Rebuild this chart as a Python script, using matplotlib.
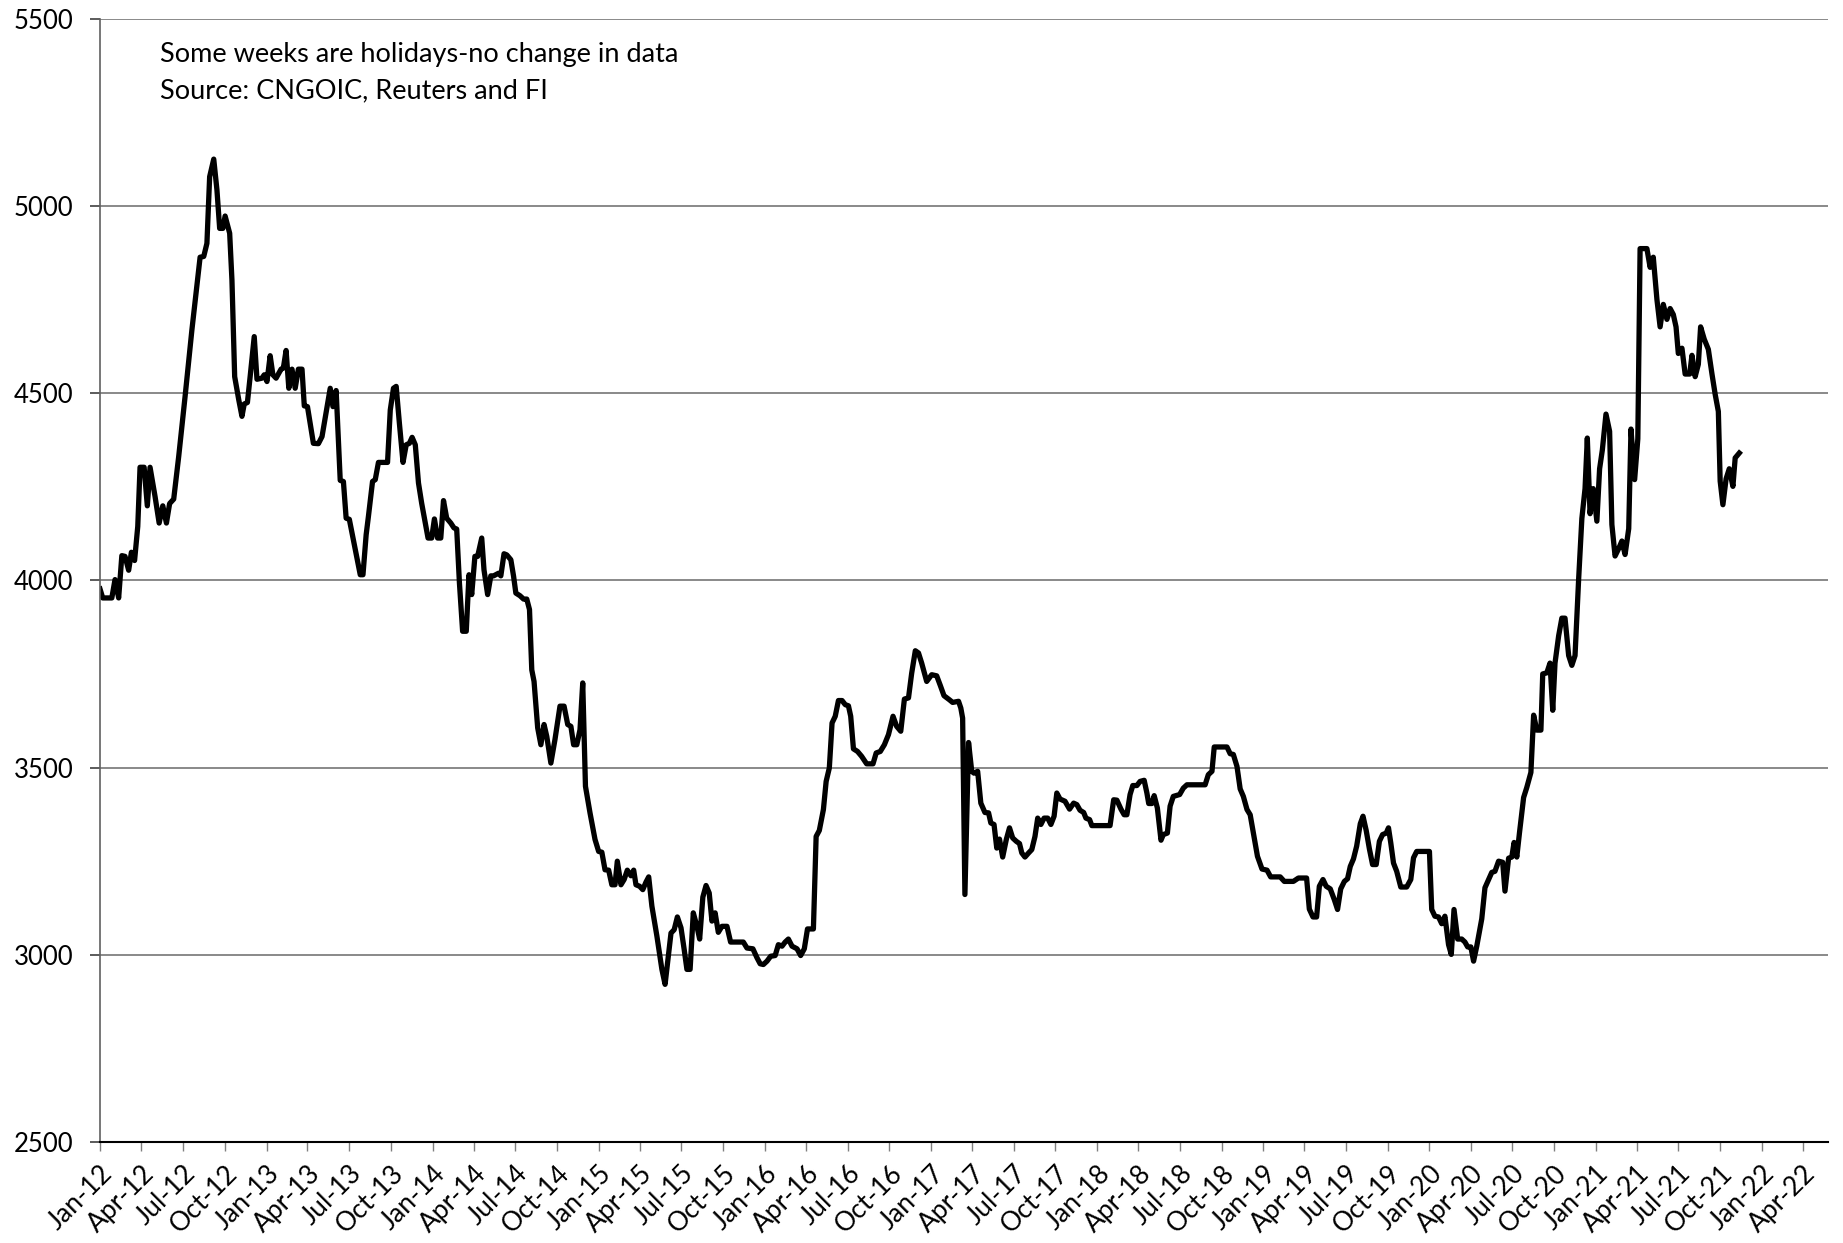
import numpy as np
import pandas as pd
import matplotlib
matplotlib.use("Agg")
import matplotlib.pyplot as plt
import matplotlib.dates as mdates

plt.rcParams['font.family'] = ['Lato', 'DejaVu Sans']

# weekly price: days since 2012-01-01 and value
days = [0, 6, 26, 33, 41, 48, 55, 63, 69, 76, 83, 88, 97, 104, 110, 121, 130, 138, 146, 153,
        162, 173, 187, 202, 220, 228, 235, 241, 250, 257, 263, 270, 275, 285, 290, 296, 305, 312, 317, 324,
        330, 339, 345, 356, 361, 367, 374, 380, 387, 398, 403, 409, 415, 422, 429, 436, 444, 449, 456, 469,
        480, 488, 506, 512, 519, 528, 535, 541, 548, 572, 578, 585, 590, 599, 605, 612,
        632, 638, 645, 651, 658, 666, 673, 680, 686, 693, 700, 707, 721, 729, 735, 742, 749, 755, 762, 771,
        778, 784, 790, 797, 805, 811, 817, 824, 830, 839, 844, 852, 859, 865, 876, 881, 888, 894, 903, 909,
        914, 923, 931, 938, 944, 949, 954, 962, 969, 976, 982, 991, 1000, 1011, 1020, 1028, 1035, 1041, 1048, 1055,
        1061, 1067, 1077, 1088, 1096, 1103, 1110, 1118, 1125, 1132, 1137, 1145, 1152, 1159, 1167, 1173, 1178, 1186, 1193, 1200,
        1206, 1213, 1224, 1235, 1242, 1247, 1255, 1262, 1269, 1277, 1284, 1290, 1297, 1304, 1312, 1318, 1325, 1332, 1339, 1345,
        1352, 1359, 1367, 1378, 1386, 1396, 1414, 1422, 1435, 1444, 1451, 1458, 1466, 1474, 1484, 1491, 1499, 1506, 1513, 1521,
        1532, 1540, 1548, 1555, 1568,
        1574, 1581, 1590, 1596, 1603, 1609, 1616, 1623, 1631, 1638, 1645, 1650, 1656, 1665, 1674, 1685, 1699, 1706, 1715, 1724,
        1733, 1743, 1751, 1760, 1768, 1777, 1784, 1792, 1799, 1806, 1817, 1828, 1839, 1847, 1855, 1867, 1874, 1887, 1892, 1896,
        1901, 1909, 1916, 1921, 1929, 1936, 1945, 1953, 1958, 1965, 1971, 1977, 1984, 1992, 1999, 2006, 2014, 2021, 2026, 2033,
        2041, 2048, 2055, 2061, 2068, 2075, 2083, 2090, 2097, 2103, 2110, 2121, 2131, 2140, 2147, 2154, 2162, 2167, 2175, 2180, 2220,
        2228, 2235, 2244, 2251, 2257, 2264, 2270, 2279, 2286, 2295, 2301, 2305, 2312, 2317, 2324, 2332, 2337, 2346, 2352, 2359,
        2373, 2381, 2389, 2429, 2436, 2444, 2449, 2477, 2484, 2491, 2499, 2506, 2513, 2521, 2528, 2535, 2544, 2554, 2565, 2573,
        2594, 2603, 2623, 2634, 2652, 2658, 2666, 2674, 2680, 2688, 2695, 2704, 2713, 2720, 2727, 2735, 2742, 2748, 2755, 2762,
        2770, 2776, 2783, 2790, 2797, 2805, 2812,
        2819, 2827, 2832, 2837, 2843, 2850, 2859, 2872, 2881, 2887, 2894, 2922, 2927, 2934, 2942, 2949, 2956, 2964, 2970, 2976,
        2984, 2993, 3000, 3006, 3013, 3019, 3026, 3037, 3044, 3052, 3059, 3066, 3074,
        3083, 3088, 3096, 3103, 3108, 3114, 3120, 3129, 3136, 3145, 3151, 3158, 3167, 3171, 3180, 3187, 3193, 3198, 3206, 3213,
        3220, 3228, 3235, 3242, 3250, 3257, 3264, 3269, 3275, 3282, 3290, 3296, 3302, 3310, 3318, 3323, 3330, 3338, 3345, 3352,
        3360, 3365, 3373, 3380, 3385, 3400, 3407, 3414, 3422, 3429, 3436, 3444, 3451, 3458, 3464, 3469, 3477, 3484, 3494, 3499,
        3506, 3513, 3518, 3526, 3535, 3543, 3550, 3557, 3561, 3567, 3574, 3581, 3589, 3594, 3603]

price = [3977, 3953, 3953, 4002, 3953, 4066, 4064, 4027, 4075, 4053, 4144, 4302, 4302, 4199, 4302, 4224, 4153, 4199, 4153, 4205,
         4217, 4331, 4491, 4669, 4863, 4865, 4900, 5078, 5125, 5043, 4940, 4940, 4973, 4927, 4802, 4544, 4482, 4438, 4471, 4475,
         4544, 4651, 4537, 4540, 4549, 4531, 4600, 4549, 4540, 4564, 4567, 4614, 4513, 4564, 4513, 4564, 4564, 4466, 4464, 4366,
         4365, 4384, 4513, 4464, 4507, 4267, 4264, 4166, 4163, 4015, 4015, 4122, 4171, 4264, 4269, 4315,
         4315, 4455, 4513, 4518, 4420, 4315, 4362, 4366, 4382, 4362, 4260, 4206, 4113, 4113, 4164, 4113, 4113, 4213, 4166, 4153,
         4140, 4137, 3993, 3864, 3864, 4015, 3962, 4064, 4064, 4113, 4028, 3962, 4012, 4012, 4019, 4012, 4071, 4068, 4055, 4011,
         3966, 3959, 3950, 3950, 3922, 3761, 3730, 3606, 3561, 3615, 3583, 3512, 3575, 3664, 3664, 3615, 3610, 3561, 3561, 3601,
         3726, 3450, 3379, 3308, 3276, 3274, 3227, 3226, 3187, 3187, 3250, 3187, 3201, 3226, 3211, 3226, 3187, 3183, 3174, 3194,
         3208, 3130, 3050, 2961, 2921, 2974, 3058, 3067, 3101, 3072, 3014, 2961, 2961, 3112, 3076, 3042, 3154, 3185, 3165, 3090,
         3112, 3060, 3076, 3076, 3034, 3034, 3034, 3018, 3016, 2992, 2976, 2974, 2983, 2996, 2998, 3027, 3023, 3034, 3042, 3023,
         3016, 2998, 3016, 3069, 3069,
         3316, 3332, 3388, 3463, 3499, 3619, 3637, 3679, 3679, 3668, 3665, 3637, 3550, 3543, 3530, 3510, 3510, 3539, 3543, 3561,
         3588, 3637, 3610, 3597, 3683, 3686, 3752, 3812, 3806, 3779, 3730, 3748, 3745, 3719, 3692, 3681, 3674, 3677, 3659, 3632,
         3161, 3567, 3490, 3485, 3490, 3405, 3380, 3379, 3352, 3348, 3285, 3309, 3261, 3308, 3339, 3312, 3303, 3297, 3272, 3261,
         3272, 3281, 3316, 3365, 3348, 3365, 3365, 3348, 3370, 3432, 3416, 3410, 3389, 3405, 3401, 3386, 3380, 3365, 3361, 3345, 3345,
         3414, 3413, 3389, 3374, 3374, 3428, 3452, 3452, 3463, 3466, 3432, 3404, 3404, 3425, 3392, 3306, 3321, 3325, 3397, 3423,
         3428, 3445, 3454, 3454, 3481, 3490, 3555, 3555, 3537, 3535, 3503, 3443, 3423, 3388, 3374, 3325, 3263, 3229, 3226, 3208,
         3208, 3196, 3196, 3205, 3205, 3122, 3101, 3101, 3183, 3201, 3183, 3176, 3147, 3121, 3176, 3196, 3203, 3236, 3256, 3290,
         3350, 3370, 3332, 3283, 3241, 3241, 3303,
         3321, 3325, 3339, 3299, 3245, 3223, 3181, 3181, 3201, 3259, 3276, 3276, 3121, 3103, 3101, 3083, 3103, 3027, 3001, 3121,
         3042, 3042, 3034, 3021, 3021, 2983, 3023, 3096, 3179, 3201, 3220, 3223, 3250,
         3247, 3170, 3258, 3261, 3300, 3261, 3327, 3420, 3447, 3487, 3640, 3600, 3600, 3750, 3753, 3779, 3653, 3779, 3852, 3899,
         3899, 3799, 3773, 3799, 4005, 4165, 4245, 4380, 4178, 4245, 4158, 4298, 4348, 4444, 4398, 4149, 4065, 4085, 4105, 4069,
         4138, 4404, 4269, 4378, 4886, 4886, 4836, 4863, 4750, 4677, 4737, 4697, 4726, 4710, 4677, 4606, 4620, 4551, 4551, 4601,
         4544, 4577, 4677, 4644, 4617, 4551, 4497, 4451, 4265, 4202, 4271, 4298, 4251, 4327, 4340]

y_ticks = [2500, 3000, 3500, 4000, 4500, 5000, 5500]
note = "Some weeks are holidays-no change in data\nSource: CNGOIC, Reuters and FI"

start = pd.Timestamp("2012-01-01")
dates = start + pd.to_timedelta(days, unit="D")

fig = plt.figure(figsize=(18.43, 12.43), dpi=100)
ax = fig.add_axes([100 / 1843, 1 - 1142 / 1243, 1728 / 1843, 1123.3 / 1243])

ax.plot(dates, price, color="black", lw=3.8, solid_joinstyle="round")

ax.set_ylim(2500, 5500)
ax.set_yticks(y_ticks)
ax.set_xlim(start, start + pd.Timedelta(days=3798))
ax.xaxis.set_major_locator(mdates.MonthLocator(bymonth=[1, 4, 7, 10]))
ax.xaxis.set_major_formatter(mdates.DateFormatter("%b-%y"))
ax.set_xticks(ax.get_xticks()[ax.get_xticks() <= mdates.date2num(pd.Timestamp("2022-04-01"))])

ax.grid(axis="y", color="#808080", lw=1.3)
ax.set_axisbelow(True)
for s in ["top", "right"]:
    ax.spines[s].set_visible(False)
ax.spines["left"].set_color("#606060")
ax.spines["left"].set_linewidth(1.2)
ax.spines["bottom"].set_color("black")
ax.spines["bottom"].set_linewidth(1.5)

ax.tick_params(axis="y", length=7, width=1.2, color="#404040", labelsize=18.5, pad=12)
ax.tick_params(axis="x", length=6.5, width=1.0, color="#808080", labelsize=19, pad=7)
for lab in ax.get_xticklabels():
    lab.set_rotation(45)
    lab.set_ha("right")
    lab.set_rotation_mode("anchor")

ax.text(0.035, 0.952, note, transform=ax.transAxes, fontsize=19.5, va="center", ha="left", linespacing=1.54)

fig.savefig("out.png", dpi=100)
